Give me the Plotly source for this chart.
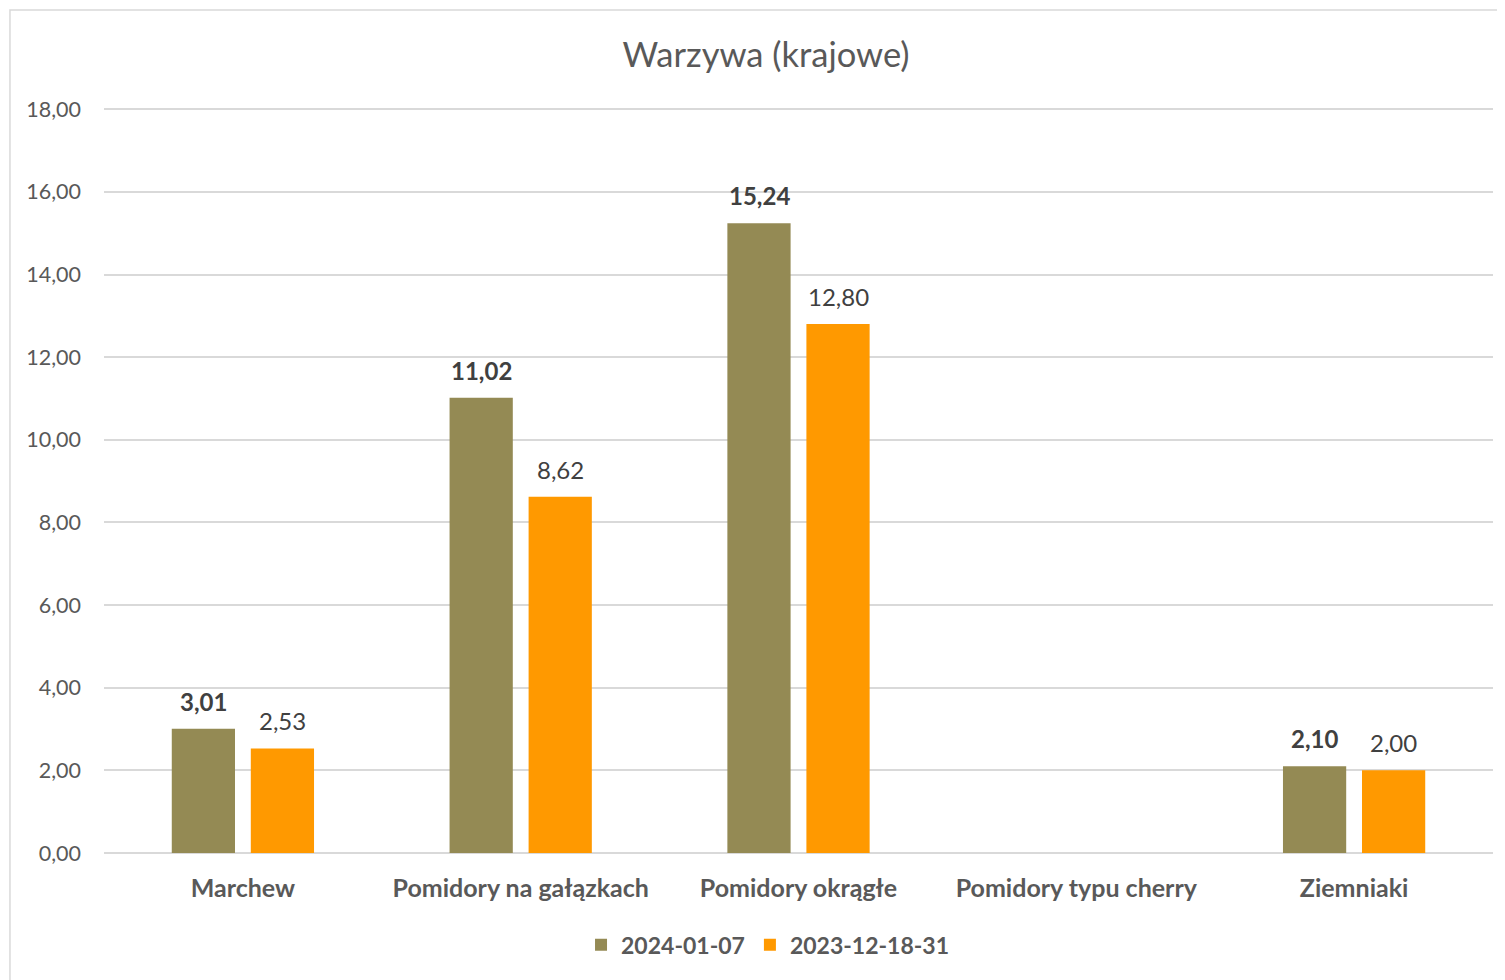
import plotly.graph_objects as go

categories = ["Marchew", "Pomidory na gałązkach", "Pomidory okrągłe", "Pomidory typu cherry", "Ziemniaki"]
series_2024 = [3.01, 11.02, 15.24, None, 2.10]
series_2023 = [2.53, 8.62, 12.80, None, 2.00]
names = ["2024-01-07", "2023-12-18-31"]
tick_vals = [0, 2, 4, 6, 8, 10, 12, 14, 16, 18]

FONT = "Lato"
GRAY = "#595959"
DARK = "#404040"
C1 = "#948A54"
C2 = "#FF9900"

fig = go.Figure()
fig.add_trace(go.Bar(x=categories, y=series_2024, name=names[0], marker_color=C1,
                     marker_line_width=0))
fig.add_trace(go.Bar(x=categories, y=series_2023, name=names[1], marker_color=C2,
                     marker_line_width=0))

annotations = []
for vals, shift, bold in [(series_2024, -39.5, True), (series_2023, 39.5, False)]:
    for c, v in zip(categories, vals):
        if v is None:
            continue
        txt = f"{v:.2f}".replace(".", ",")
        if bold:
            txt = f"<b>{txt}</b>"
        annotations.append(dict(x=c, y=v, xref="x", yref="y", text=txt, showarrow=False,
                                xshift=shift, yshift=11, yanchor="bottom",
                                font=dict(family=FONT, size=24, color=DARK)))

fig.update_layout(
    width=1505, height=980,
    margin=dict(l=96, r=20, t=100, b=135),
    paper_bgcolor="white", plot_bgcolor="white",
    separators=", ",
    title=dict(text="Warzywa (krajowe)", x=0.5037, xanchor="center", y=0.952, yanchor="middle",
               font=dict(family=FONT, size=34.5, color=GRAY)),
    barmode="group", bargap=0.431, bargroupgap=0.2,
    showlegend=True,
    legend=dict(orientation="h", x=0.505, xref="container", xanchor="center", y=0.044, yref="container", yanchor="middle",
                font=dict(family=FONT, size=23, color=GRAY, weight="bold"),
                itemwidth=30, traceorder="normal"),
    annotations=annotations,
    shapes=[dict(type="rect", xref="paper", yref="paper", x0=-0.0677, x1=1.05,
                 y0=-0.2, y1=1.1315, line=dict(color="#D9D9D9", width=1.5), fillcolor="rgba(0,0,0,0)",
                 layer="below")],
)
fig.update_xaxes(showgrid=False, showline=False, ticks="", ticklabelstandoff=18,
                 tickfont=dict(family=FONT, size=25, color=GRAY, weight="bold"))
fig.update_yaxes(range=[0, 18.03], tickvals=tick_vals, tickformat=".2f", showgrid=True,
                 gridcolor="#D9D9D9", gridwidth=1.5, zeroline=True, zerolinecolor="#D9D9D9",
                 zerolinewidth=1.5, showline=False, ticks="", ticklabelstandoff=22,
                 tickfont=dict(family=FONT, size=21.5, color=GRAY))

fig.write_html("out.html")
